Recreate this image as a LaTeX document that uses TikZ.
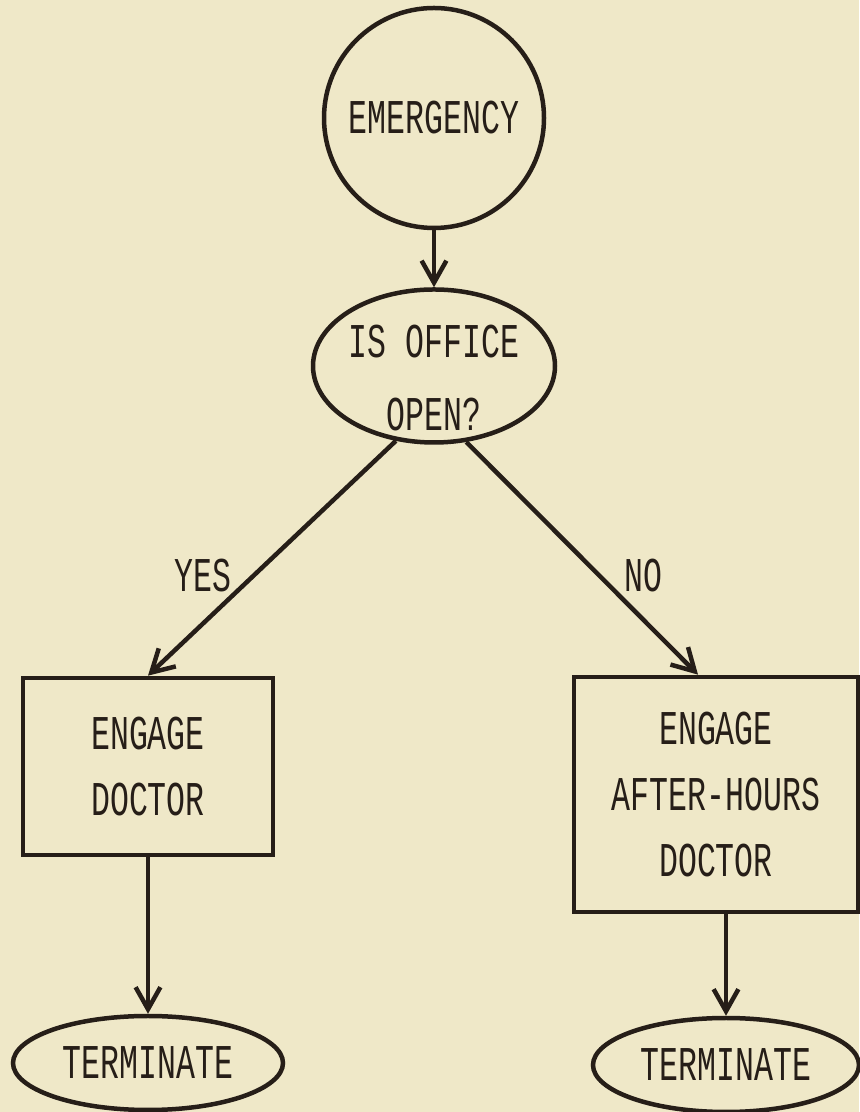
\documentclass[tikz,border=0pt]{standalone}
\usepackage{fontspec}
\newfontfamily\letterfont[FakeStretch=0.65]{Liberation Mono}
\usepackage{tikz}
\usetikzlibrary{positioning, shapes.geometric, arrows.meta}
\definecolor{paper}{RGB}{239,232,200}
\definecolor{ink}{RGB}{38,30,24}

\begin{document}
\begin{tikzpicture}[color = ink, line width = 3.2pt,
	every node/.style = {font = \letterfont\fontsize{34.5}{47}\selectfont, align = center},
	box/.style = {draw, shape = rectangle},
	flow/.style = {-{Straight Barb[length = 0.55cm, width = 0.62cm]}}]

	\fill[paper] (0, 0) rectangle (21.475, 27.8);
	\useasboundingbox (0, 0) rectangle (21.475, 27.8);

	\node[draw, shape = circle, minimum size = 5.5cm] (e0) at (10.85, 24.85) {EMERGENCY};
	\node[draw, shape = ellipse, minimum width = 6.05cm, minimum height = 3.825cm,
		label = {[yshift = -0.3cm]center:{IS OFFICE\\[0.15cm]OPEN?}}] (e1) at (10.85, 18.65) {};

	\node[box, minimum width = 6.25cm, minimum height = 4.425cm] (r1) at (3.7, 8.64) {ENGAGE\\DOCTOR};
	\node[box, minimum width = 7.1cm, minimum height = 5.875cm] (r2) at (17.9, 7.94) {ENGAGE\\AFTER-HOURS\\DOCTOR};

	\node[draw, shape = ellipse, minimum width = 6.75cm, minimum height = 2.35cm] (t1) at (3.7, 1.225) {TERMINATE};
	\node[draw, shape = ellipse, minimum width = 6.65cm, minimum height = 2.35cm] (t2) at (18.15, 1.175) {TERMINATE};

	\node[] (yes) at (5.075, 13.4) {YES};
	\node[] (no) at (16.075, 13.4) {NO};

	\path[flow]
	(e0) edge (e1)

	(e1.243) edge (r1.north)
	(e1.293) edge ([xshift = -0.45cm]r2.north)

	(r1) edge (t1)
	(r2.south -| t2) edge (t2);

\end{tikzpicture}
\end{document}
